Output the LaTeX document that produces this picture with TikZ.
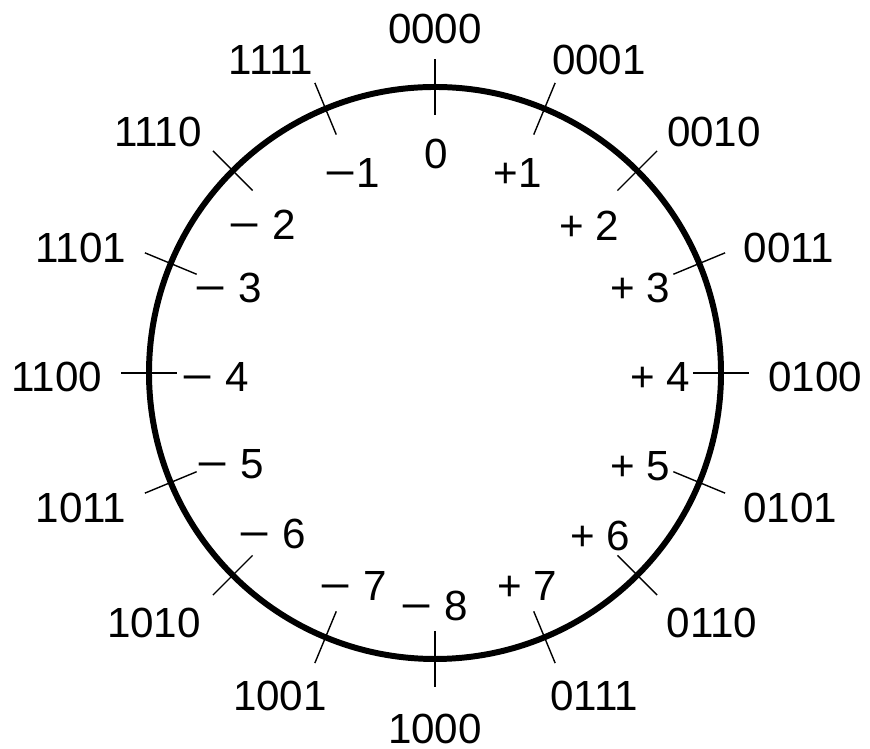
\documentclass[tikz,border=0pt]{standalone}
\usepackage{fontspec}
\setmainfont{Liberation Sans}
\usepackage{tikz}
\usetikzlibrary{calc,positioning}
\newcommand{\mns}{{\addfontfeature{FakeStretch=1.3}−}}
\tikzset{
  every node/.style = {outer sep=0, inner sep=0},
  ring/.style = {line width=1.7pt},
  ticmark/.style = {line width=0.4pt},
  code/.style = {font=\fontsize{12}{14}\selectfont},
  value/.style = {font=\fontsize{12}{14}\selectfont}
}
\begin{document}
\begin{tikzpicture}
    \useasboundingbox (-4.35,-3.76) rectangle (4.35,3.73);
    \def\r{2.86}
    \draw[ring] (0,0) circle (\r);
    \foreach \i [evaluate=\i as \ang using {90-\i*22.5}] in {0,...,15} {
      \draw[ticmark] ({\ang}:{\r-0.28}) -- ({\ang}:{\r+0.28});
    }
    % binary codes outside, values inside
    \foreach \n/\bits/\ox/\oy/\val/\ix/\iy in {
        0/0000/0/3.44/0/0.01/2.19,
        1/0001/1.64/3.13/+1/0.83/2.00,
        2/0010/2.79/2.41/+ 2/1.54/1.47,
        3/0011/3.54/1.25/+ 3/2.05/0.85,
        4/0100/3.80/-0.04/+ 4/2.25/-0.04,
        5/0101/3.55/-1.35/+ 5/2.05/-0.93,
        6/0110/2.77/-2.50/+ 6/1.65/-1.63,
        7/0111/1.59/-3.23/+ 7/0.92/-2.13,
        8/1000/0/-3.56/\mns{} 8/-0.01/-2.33,
        9/1001/-1.55/-3.23/\mns{} 7/-0.82/-2.13,
        10/1010/-2.81/-2.50/\mns{} 6/-1.63/-1.61,
        11/1011/-3.54/-1.35/\mns{} 5/-2.05/-0.91,
        12/1100/-3.78/-0.04/\mns{} 4/-2.20/-0.04,
        13/1101/-3.54/1.25/\mns{} 3/-2.07/0.85,
        14/1110/-2.77/2.41/\mns{} 2/-1.73/1.48,
        15/1111/-1.64/3.13/\mns{}1/-0.83/2.00} {
      \node[code] (b\n) at (\ox,\oy) {\bits};
      \node[value] (v\n) at (\ix,\iy) {\val};
    }
  \end{tikzpicture}
\end{document}
